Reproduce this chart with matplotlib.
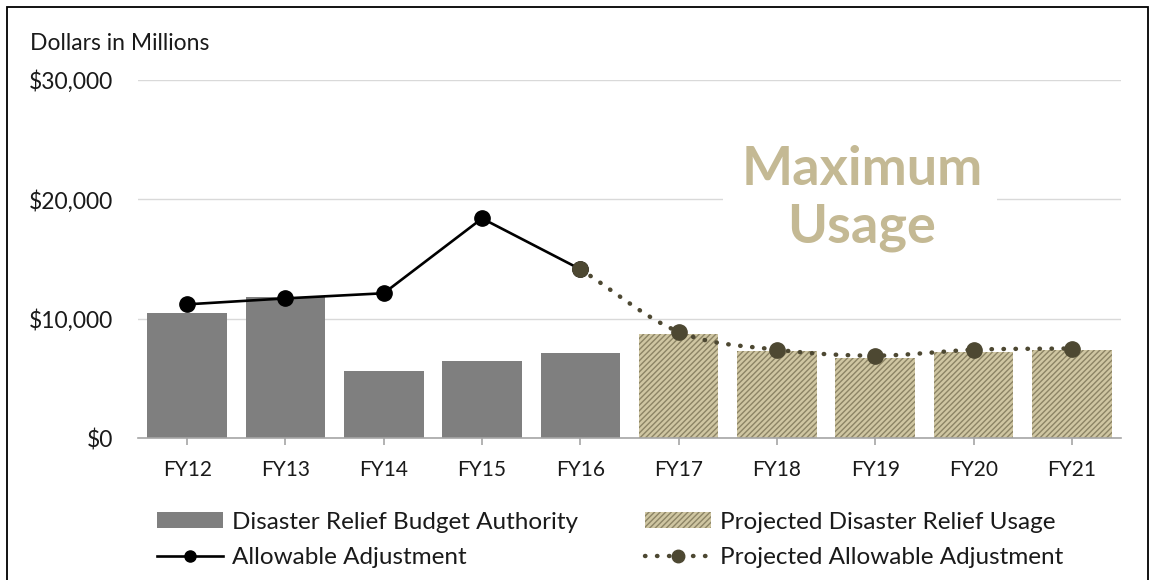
import numpy as np
import matplotlib
matplotlib.use("Agg")
import matplotlib.pyplot as plt
from matplotlib.patches import Rectangle
from matplotlib.lines import Line2D
import matplotlib.ticker as mticker

categories = ["FY12", "FY13", "FY14", "FY15", "FY16", "FY17", "FY18", "FY19", "FY20", "FY21"]
budget_authority = [10450, 11840, 5600, 6480, 7100]          # FY12-FY16
projected_usage = [8700, 7250, 6700, 7200, 7400]             # FY17-FY21
allowable_adj = [11200, 11700, 12130, 18400, 14140]          # FY12-FY16
projected_adj = [14140, 8900, 7400, 6900, 7400, 7500]        # FY16-FY21
y_ticks = [0, 10000, 20000, 30000]

plt.rcParams['font.family'] = ['Lato', 'DejaVu Sans']
plt.rcParams['hatch.linewidth'] = 1.0

TXT = "#1a1a1a"
GRAY = "#7f7f7f"
TAN = "#cfc6a2"
HATCH = "#8c8465"
OLIVE = "#4d4832"
DOTS = (0, (0.1, 2.6))

fig = plt.figure(figsize=(11.56, 5.8), dpi=100)
W, H = 1156, 580
ax = fig.add_axes([138 / W, 1 - 438 / H, (1121 - 138) / W, (438 - 80) / H])

x = np.arange(len(categories))
n_hist = len(budget_authority)
ax.bar(x[:n_hist], budget_authority, width=0.81, color=GRAY, zorder=2)
ax.bar(x[n_hist:], projected_usage, width=0.81, color=TAN,
       edgecolor=HATCH, linewidth=0, hatch="//////", zorder=2)

ax.plot(x[:n_hist], allowable_adj, color="black", lw=1.9, marker="o",
        markersize=11, zorder=4)

# smooth rendering of projected line (Catmull-Rom through the data points)
px = x[n_hist - 1:].astype(float)
py = np.array(projected_adj, dtype=float)
sx, sy = [], []
P = np.concatenate([[py[0] - (py[1] - py[0])], py, [py[-1] + (py[-1] - py[-2])]])
Q = np.concatenate([[px[0] - 1], px, [px[-1] + 1]])
for i in range(1, len(P) - 2):
    t = np.linspace(0, 1, 30)
    m1 = (P[i + 1] - P[i - 1]) / 2
    m2 = (P[i + 2] - P[i]) / 2
    h00 = 2 * t**3 - 3 * t**2 + 1
    h10 = t**3 - 2 * t**2 + t
    h01 = -2 * t**3 + 3 * t**2
    h11 = t**3 - t**2
    sy.extend(h00 * P[i] + h10 * m1 + h01 * P[i + 1] + h11 * m2)
    sx.extend(Q[i] + t * (Q[i + 1] - Q[i]))
ax.plot(sx, sy, color=OLIVE, lw=3.2, linestyle=DOTS,
        dash_capstyle="round", zorder=3)
ax.plot(px, py, linestyle="none", marker="o", markersize=11, color=OLIVE, zorder=4)

ax.set_xlim(-0.5, len(categories) - 0.5)
ax.set_ylim(0, 30000)
ax.set_yticks(y_ticks)
ax.yaxis.set_major_formatter(mticker.FuncFormatter(lambda v, p: f"${v:,.0f}"))
ax.set_xticks(x)
ax.set_xticklabels(categories)
ax.grid(axis="y", color="#d9d9d9", lw=1.0, zorder=0)
ax.set_axisbelow(True)
for s in ["top", "right", "left"]:
    ax.spines[s].set_visible(False)
ax.spines["bottom"].set_color("#a6a6a6")
ax.spines["bottom"].set_linewidth(1.2)
ax.tick_params(axis="y", length=0, labelsize=16.5, pad=18, labelcolor=TXT)
ax.tick_params(axis="x", length=5, color="#a6a6a6", width=1.2, labelsize=15,
               pad=11, labelcolor=TXT)

fig.text(30 / W, 1 - 43 / H, "Dollars in Millions", fontsize=16.5, va="center",
         ha="left", color=TXT)

# annotation
fig.patches.append(Rectangle((723 / W, 1 - 252 / H), 274 / W, 112 / H,
                             transform=fig.transFigure, facecolor="white",
                             edgecolor="none", zorder=1))
fig.text(862 / W, 1 - 185 / H, "Maximum", fontsize=39, fontweight="bold",
         color="#c4b994", ha="center", va="baseline", zorder=5)
fig.text(862 / W, 1 - 242 / H, "Usage", fontsize=39, fontweight="bold",
         color="#c4b994", ha="center", va="baseline", zorder=5)

# legend (two columns placed separately)
h_bar = Rectangle((0, 0), 1, 1, facecolor=GRAY, edgecolor="none")
h_line = Line2D([], [], color="black", lw=1.9, marker="o", markersize=8)
h_tan = Rectangle((0, 0), 1, 1, facecolor=TAN, edgecolor=HATCH, linewidth=0, hatch="//////")
h_dot = Line2D([], [], color=OLIVE, lw=3.2, linestyle=DOTS,
               dash_capstyle="round", marker="o", markersize=9)
leg_kw = dict(frameon=False, fontsize=17.5, handlelength=2.7, handleheight=0.6,
              handletextpad=0.4, labelspacing=0.6, borderpad=0, borderaxespad=0,
              labelcolor=TXT, loc="center left")
fig.legend([h_bar, h_line], ["Disaster Relief Budget Authority", "Allowable Adjustment"],
           bbox_to_anchor=(157 / W, 1 - 540 / H), **leg_kw)
fig.legend([h_tan, h_dot], ["Projected Disaster Relief Usage", "Projected Allowable Adjustment"],
           bbox_to_anchor=(645 / W, 1 - 540 / H), **leg_kw)

fig.patches.append(Rectangle((7 / W, -0.01), 1141 / W, 1 - 7 / H + 0.01,
                             transform=fig.transFigure, facecolor="none",
                             edgecolor="black", lw=1.3, zorder=10))

fig.savefig("out.png", dpi=100)
